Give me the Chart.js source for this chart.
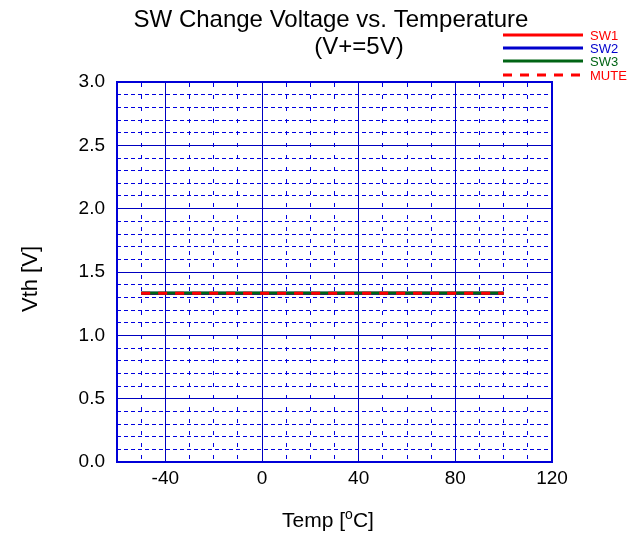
<!DOCTYPE html>
<html><head><meta charset="utf-8">
<script src="https://cdn.jsdelivr.net/npm/chart.js@4.4.1/dist/chart.umd.min.js"></script>
<style>html,body{margin:0;padding:0;background:#fff;overflow:hidden}</style>
</head><body>
<canvas id="c" width="642" height="539" style="width:642px;height:539px;display:block"></canvas>
<script>
// ---- data ----
const temps = [-50, -25, 0, 25, 50, 75, 100];
const sw1  = [1.330, 1.331, 1.331, 1.331, 1.332, 1.332, 1.332];
const sw2  = [1.332, 1.332, 1.332, 1.333, 1.333, 1.333, 1.333];
const sw3  = [1.334, 1.334, 1.334, 1.334, 1.334, 1.334, 1.334];
const mute = [1.333, 1.333, 1.333, 1.333, 1.333, 1.333, 1.333];
const seriesNames = ['SW1', 'SW2', 'SW3', 'MUTE'];
const xTickLabels = [-40, 0, 40, 80, 120];
const yTickLabels = [0, 0.5, 1.0, 1.5, 2.0, 2.5, 3.0];
const titleLine1 = 'SW Change Voltage vs. Temperature';
const titleLine2 = '(V+=5V)';

const FONT = '"Liberation Sans", Arial, Helvetica, sans-serif';
const C_RED = '#ff0000', C_BLUE = '#0000cc', C_GREEN = '#006414';
const GRID_MAJOR = '#0000c0', GRID_MINOR = '#0000e0', BORDER = '#0000d8';

const X_MIN = -60, X_MAX = 120, Y_MIN = 0, Y_MAX = 3;
const xMinor = [], yMinor = [];
for (let v = X_MIN + 10; v < X_MAX; v += 10) if (!xTickLabels.includes(v)) xMinor.push(v);
for (let i = 1; i < 30; i++) { const v = +(i / 10).toFixed(1); if (i % 5) yMinor.push(v); }

const pts = arr => temps.map((t, i) => ({x: t, y: arr[i]}));

const decor = {
  id: 'decor',
  afterDraw(chart) {
    const ctx = chart.ctx, a = chart.chartArea;
    ctx.save();
    ctx.fillStyle = '#000';
    ctx.textBaseline = 'alphabetic';
    ctx.textAlign = 'center';
    ctx.font = '24px ' + FONT;
    ctx.fillText(titleLine1, 331, 27);
    ctx.fillText(titleLine2, 359, 54);

    // y axis title
    ctx.save();
    ctx.translate(37, (a.top + a.bottom) / 2 + 7);
    ctx.rotate(-Math.PI / 2);
    ctx.font = '22px ' + FONT;
    ctx.fillText('Vth [V]', 0, 0);
    ctx.restore();

    // x axis title with superscript o
    ctx.font = '21px ' + FONT;
    const p1 = 'Temp [', p3 = 'C]';
    const w1 = ctx.measureText(p1).width, w3 = ctx.measureText(p3).width;
    ctx.font = '14px ' + FONT;
    const w2 = ctx.measureText('o').width;
    const total = w1 + w2 + w3;
    let x0 = 328 - total / 2;
    const by = 527;
    ctx.textAlign = 'left';
    ctx.font = '21px ' + FONT;
    ctx.fillText(p1, x0, by);
    ctx.font = '14px ' + FONT;
    ctx.fillText('o', x0 + w1, by - 8);
    ctx.font = '21px ' + FONT;
    ctx.fillText(p3, x0 + w1 + w2, by);

    // legend
    const ds = chart.data.datasets;
    const ys = [35, 48, 61, 75];
    ctx.font = '13px ' + FONT;
    ctx.textBaseline = 'middle';
    seriesNames.forEach((name, i) => {
      const d = ds.find(q => q.label === name);
      ctx.save();
      ctx.strokeStyle = d.borderColor;
      ctx.lineWidth = 3;
      ctx.setLineDash(d.borderDash || []);
      ctx.beginPath();
      ctx.moveTo(503, ys[i]);
      ctx.lineTo(583, ys[i]);
      ctx.stroke();
      ctx.restore();
      ctx.fillStyle = d.borderColor;
      ctx.fillText(name, 590, ys[i] + 1);
    });
    ctx.restore();
  }
};

new Chart(document.getElementById('c'), {
  type: 'line',
  data: {
    datasets: [
      {label: 'SW1', data: pts(sw1), borderColor: C_RED, borderWidth: 3, order: 4},
      {label: 'SW2', data: pts(sw2), borderColor: C_BLUE, borderWidth: 3, order: 3},
      {label: 'SW3', data: pts(sw3), borderColor: C_GREEN, borderWidth: 3, order: 2},
      {label: 'MUTE', data: pts(mute), borderColor: C_RED, borderWidth: 3, borderDash: [9, 8], order: 1}
    ]
  },
  options: {
    responsive: false,
    animation: false,
    devicePixelRatio: 1,
    layout: {padding: 0},
    elements: {point: {radius: 0, hoverRadius: 0}, line: {tension: 0, fill: false}},
    plugins: {legend: {display: false}, title: {display: false}, tooltip: {enabled: false}},
    events: [],
    scales: {
      x: {
        type: 'linear', position: 'bottom', min: X_MIN, max: X_MAX,
        afterBuildTicks: s => { s.ticks = xTickLabels.map(v => ({value: v})); },
        afterFit: s => { s.height = 77; },
        grid: {color: GRID_MAJOR, lineWidth: 1, drawTicks: false},
        border: {display: true, color: BORDER, width: 2},
        ticks: {color: '#000', font: {family: FONT, size: 19}, padding: 5, maxRotation: 0, autoSkip: false}
      },
      xm: {
        type: 'linear', position: 'top', min: X_MIN, max: X_MAX,
        afterBuildTicks: s => { s.ticks = xMinor.map(v => ({value: v})); },
        afterFit: s => { s.height = 82; },
        grid: {color: GRID_MINOR, lineWidth: 1, drawTicks: false},
        border: {display: true, color: BORDER, width: 2, dash: [4, 8]},
        ticks: {display: false}
      },
      y: {
        type: 'linear', position: 'left', min: Y_MIN, max: Y_MAX,
        afterBuildTicks: s => { s.ticks = yTickLabels.map(v => ({value: v})); },
        afterFit: s => { s.width = 117; },
        grid: {color: GRID_MAJOR, lineWidth: 1, drawTicks: false},
        border: {display: true, color: BORDER, width: 2},
        ticks: {color: '#000', font: {family: FONT, size: 19}, padding: 12, callback: v => Number(v).toFixed(1)}
      },
      ym: {
        type: 'linear', position: 'right', min: Y_MIN, max: Y_MAX,
        afterBuildTicks: s => { s.ticks = yMinor.map(v => ({value: v})); },
        afterFit: s => { s.width = 90; },
        grid: {color: GRID_MINOR, lineWidth: 1, drawTicks: false},
        border: {display: true, color: BORDER, width: 2, dash: [4, 3]},
        ticks: {display: false}
      }
    }
  },
  plugins: [decor]
});
</script>
</body></html>
